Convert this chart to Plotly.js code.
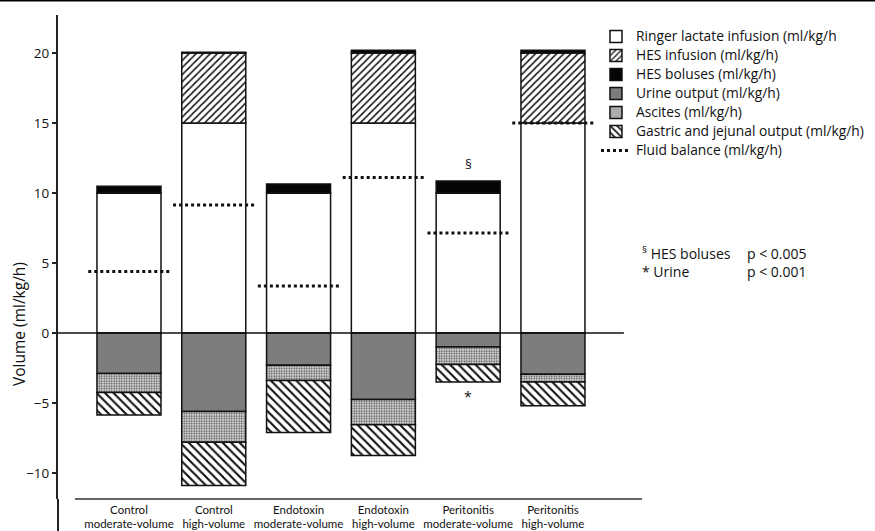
<!DOCTYPE html>
<html>
<head>
<meta charset="utf-8">
<script src="https://cdn.plot.ly/plotly-3.0.1.min.js"></script>
<style>
html,body{margin:0;padding:0;background:#fff;}
#chart{width:875px;height:531px;}
</style>
</head>
<body>
<div id="chart"></div>
<script>
var categories = ['Control<br>moderate-volume', 'Control<br>high-volume', 'Endotoxin<br>moderate-volume', 'Endotoxin<br>high-volume', 'Peritonitis<br>moderate-volume', 'Peritonitis<br>high-volume'];
var ringer = [10, 15, 10, 15, 10, 15];
var hesInfusion = [0, 5, 0, 5, 0, 5];
var hesBoluses = [0.48, 0.05, 0.65, 0.2, 0.85, 0.2];
var urine = [-2.9, -5.6, -2.3, -4.75, -1.0, -2.95];
var ascites = [-1.35, -2.2, -1.1, -1.8, -1.25, -0.55];
var gastric = [-1.6, -3.1, -3.7, -2.2, -1.25, -1.7];
var fluidBalance = [4.4, 9.15, 3.35, 11.1, 7.15, 15.0];
var seriesNames = ['Ringer lactate infusion (ml/kg/h', 'HES infusion (ml/kg/h)', 'HES boluses (ml/kg/h)', 'Urine output (ml/kg/h)', 'Ascites (ml/kg/h)', 'Gastric and jejunal output (ml/kg/h)', 'Fluid balance (ml/kg/h)'];
var tickVals = [-10, -5, 0, 5, 10, 15, 20];

var FONT = '"Open Sans", "Noto Sans", sans-serif';
var FONT2 = 'Lato, "Open Sans", sans-serif';
var xs = categories.map(function(_, i){ return i; });
var barW = 0.755;
var outline = {color: '#111', width: 1.5};

function legName(s){ return '<span style="font-size:13.8px">' + s + '</span>'; }

function barTrace(name, vals, marker){
  marker.line = outline;
  return {type: 'bar', name: legName(name), x: xs, y: vals, width: barW, marker: marker, hoverinfo: 'skip'};
}

var traces = [
  barTrace(seriesNames[0], ringer, {color: '#ffffff'}),
  barTrace(seriesNames[1], hesInfusion, {color: '#ffffff', pattern: {shape: '/', fgcolor: '#111', bgcolor: '#ffffff', size: 5, solidity: 0.3, fillmode: 'replace'}}),
  barTrace(seriesNames[2], hesBoluses, {color: '#050505'}),
  barTrace(seriesNames[3], urine, {color: '#7d7d7d'}),
  barTrace(seriesNames[4], ascites, {color: '#ffffff', pattern: {shape: '.', fgcolor: '#555', bgcolor: '#e8e8e8', size: 2.5, solidity: 0.45, fillmode: 'replace'}}),
  barTrace(seriesNames[5], gastric, {color: '#ffffff', pattern: {shape: '\\', fgcolor: '#111', bgcolor: '#ffffff', size: 6, solidity: 0.35, fillmode: 'replace'}})
];

var fbx = [], fby = [];
fluidBalance.forEach(function(v, i){
  fbx.push(i - 0.48, i + 0.48, null);
  fby.push(v, v, null);
});
traces.push({type: 'scatter', mode: 'lines', name: legName(seriesNames[6]), x: fbx, y: fby,
  line: {color: '#111', width: 3, dash: 'dot'}, hoverinfo: 'skip', connectgaps: false});

var posTotal = xs.map(function(i){ return ringer[i] + hesInfusion[i] + hesBoluses[i]; });
var negTotal = xs.map(function(i){ return urine[i] + ascites[i] + gastric[i]; });

var layout = {
  width: 875, height: 531,
  margin: {l: 58, r: 233, t: 15, b: 32, autoexpand: false},
  paper_bgcolor: '#fff', plot_bgcolor: 'rgba(0,0,0,0)',
  font: {family: FONT, size: 13, color: '#111'},
  barmode: 'relative',
  bargap: 0,
  showlegend: true,
  legend: {x: 0.9212, y: 0.9855, xanchor: 'left', yanchor: 'top', bgcolor: 'rgba(0,0,0,0)',
    font: {family: FONT, size: 12, color: '#111'}, traceorder: 'normal', itemwidth: 30, tracegroupgap: 0},
  xaxis: {type: 'linear', range: [-0.837, 6.05], tickvals: xs, ticktext: categories, automargin: false,
    showgrid: false, zeroline: false, showline: false, ticks: '', ticklen: 0, ticklabelstandoff: 2,
    tickfont: {family: FONT2, size: 11.5, color: '#111'}, fixedrange: true},
  yaxis: {range: [-11.857, 22.714], tickvals: tickVals, showgrid: false, zeroline: false, automargin: false,
    showline: true, linecolor: '#222', linewidth: 2, ticks: 'outside', ticklen: 4, tickwidth: 1.5, tickcolor: '#222',
    tickfont: {family: FONT, size: 13.5, color: '#111'}, fixedrange: true},
  shapes: [
    {type: 'line', xref: 'paper', yref: 'y', x0: 0, x1: 0.969, y0: 0, y1: 0, line: {color: '#111', width: 1.3}},
    {type: 'line', xref: 'paper', yref: 'paper', x0: 0.029, x1: 1, y0: 0, y1: 0, line: {color: '#333', width: 1.5}},
    {type: 'line', xref: 'paper', yref: 'paper', x0: 0, x1: 0, y0: -0.07, y1: 0, line: {color: '#222', width: 2}},
    {type: 'line', xref: 'paper', yref: 'paper', x0: -0.1, x1: 1.41, y0: 1.0295, y1: 1.0295, line: {color: '#000', width: 1.5}}
  ],
  annotations: [
    {text: 'Volume (ml/kg/h)', textangle: -90, xref: 'paper', yref: 'paper', x: (19 - 58) / 584, y: (499 - 324) / 484,
      xanchor: 'center', yanchor: 'middle', showarrow: false, font: {family: FONT, size: 15.5, color: '#111'}},
    {text: '§', x: 4, y: posTotal[4], xref: 'x', yref: 'y', yanchor: 'bottom', yshift: 6, showarrow: false,
      font: {family: FONT, size: 13.5, color: '#111'}},
    {text: '*', x: 4, y: negTotal[4], xref: 'x', yref: 'y', yanchor: 'top', yshift: -3, showarrow: false,
      font: {family: FONT, size: 14, color: '#111'}},
    {text: '<sup>§</sup> HES boluses', xref: 'paper', yref: 'paper', x: (640 - 58) / 584, y: (499 - 253) / 484,
      xanchor: 'left', yanchor: 'middle', showarrow: false, font: {family: FONT, size: 14, color: '#111'}},
    {text: '* Urine', xref: 'paper', yref: 'paper', x: (640 - 58) / 584, y: (499 - 271) / 484,
      xanchor: 'left', yanchor: 'middle', showarrow: false, font: {family: FONT, size: 14, color: '#111'}},
    {text: 'p &lt; 0.005', xref: 'paper', yref: 'paper', x: (745 - 58) / 584, y: (499 - 253) / 484,
      xanchor: 'left', yanchor: 'middle', showarrow: false, font: {family: FONT, size: 14, color: '#111'}},
    {text: 'p &lt; 0.001', xref: 'paper', yref: 'paper', x: (745 - 58) / 584, y: (499 - 271) / 484,
      xanchor: 'left', yanchor: 'middle', showarrow: false, font: {family: FONT, size: 14, color: '#111'}}
  ]
};

Plotly.newPlot('chart', traces, layout, {displayModeBar: false, staticPlot: true});
</script>
</body>
</html>
